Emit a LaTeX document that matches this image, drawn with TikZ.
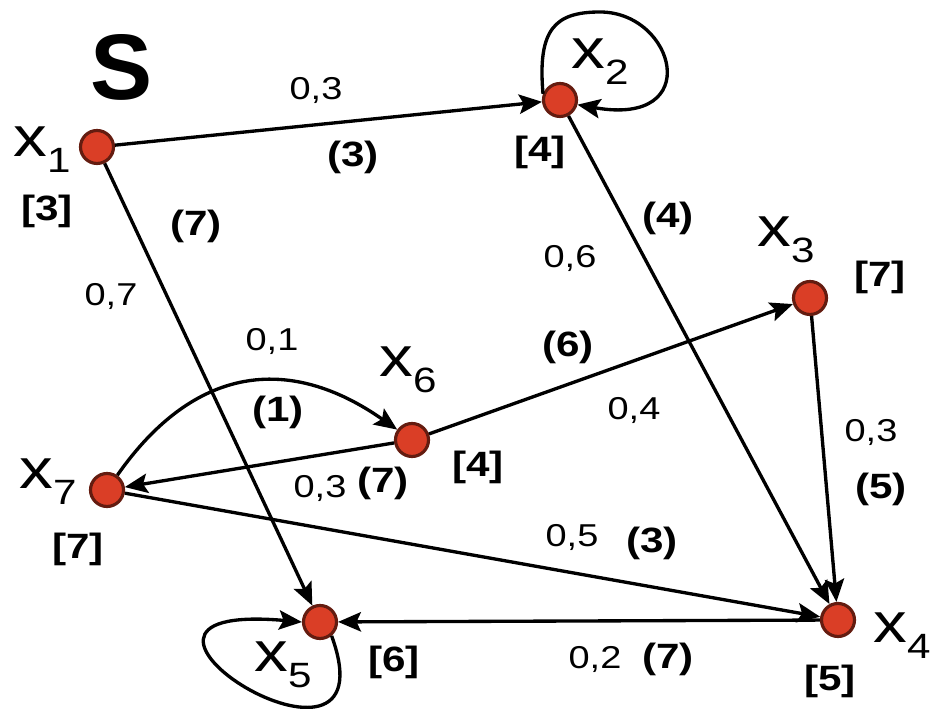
\documentclass[tikz,border=0pt]{standalone}
\usepackage{fontspec}
\setmainfont{Liberation Sans}
\newfontfamily\labf{Liberation Sans}[FakeStretch=1.2]
\usetikzlibrary{arrows.meta}
\definecolor{vfill}{RGB}{218,62,38}
\definecolor{vborder}{RGB}{100,28,16}
\newcommand{\xsub}[1]{{\labf\fontsize{32}{32}\selectfont x}\raisebox{-9pt}{\labf\fontsize{20}{20}\selectfont #1}}
\begin{document}
\begin{tikzpicture}[x=0.02cm,y=0.02cm,
  vert/.style={circle,draw=vborder,fill=vfill,line width=1.8pt,minimum size=0.66cm,inner sep=0pt},
  arr/.style={line width=1.9pt,-{Stealth[length=13pt,width=11pt,inset=2.5pt]}},
  num/.style={font=\labf\fontsize{18}{18}\selectfont,inner sep=0pt},
  bnum/.style={font=\labf\bfseries\fontsize{20}{20}\selectfont,inner sep=0pt},
  xlab/.style={inner sep=0pt}]
\useasboundingbox (0,0) rectangle (930,709);
% vertices
\node[vert] (x1) at (97,562) {};
\node[vert] (x2) at (560,609) {};
\node[vert] (x3) at (810,411) {};
\node[vert] (x4) at (838,89) {};
\node[vert] (x5) at (320,87) {};
\node[vert] (x6) at (412,269) {};
\node[vert] (x7) at (107,219) {};
\coordinate (x2top) at (600,697);
% edges
\draw[arr] (x1) -- (x2);
\draw[arr] (x1) -- (x5);
\draw[arr] (x2) -- (x4);
\draw[arr] (x3) -- (x4);
\draw[arr] (x6) -- (x3);
\draw[arr] (x6) -- (x7);
\draw[arr] (x7) -- (x4);
\draw[arr] (x4) -- (x5);
\draw[arr] (x7) to[out=55,in=145,looseness=1.2] (x6);
\draw[arr] (x2.160) .. controls +(95:65) and +(180:45) .. (x2top)
                    .. controls +(0:75) and +(-10:130) .. (x2.-15);
\draw[arr] (x5.-50) .. controls +(-70:190) and +(175:250) .. (x5.180);
% title
\node[font=\bfseries\fontsize{53}{53}\selectfont,inner sep=0pt] (S) at (122,642) {S};
% vertex labels
\node[xlab] (l1) at (42,559) {\xsub{1}};
\node[xlab] (l2) at (600,647) {\xsub{2}};
\node[xlab] (l3) at (786,469) {\xsub{3}};
\node[xlab] (l4) at (902,73) {\xsub{4}};
\node[xlab] (l5) at (283,44) {\xsub{5}};
\node[xlab] (l6) at (408,339) {\xsub{6}};
\node[xlab] (l7) at (48,227) {\xsub{7}};
% vertex weights
\node[bnum] (w1) at (47,498) {[3]};
\node[bnum] (w2) at (540,557) {[4]};
\node[bnum] (w3) at (880,432) {[7]};
\node[bnum] (w4) at (830,28) {[5]};
\node[bnum] (w5) at (394,47) {[6]};
\node[bnum] (w6) at (478,242) {[4]};
\node[bnum] (w7) at (78,160) {[7]};
% edge labels
\node[num] (p12) at (316,619) {0,3};
\node[bnum] (c12) at (353,552) {(3)};
\node[bnum] (c15) at (196,483) {(7)};
\node[num] (p15) at (111,413) {0,7};
\node[num] (p76) at (272,368) {0,1};
\node[bnum] (c76) at (278,297) {(1)};
\node[num] (p67) at (320,221) {0,3};
\node[bnum] (c67) at (383,226) {(7)};
\node[bnum] (c24) at (668,491) {(4)};
\node[num] (p24) at (570,451) {0,6};
\node[bnum] (c63) at (568,362) {(6)};
\node[num] (p63) at (634,299) {0,4};
\node[num] (p34) at (871,277) {0,3};
\node[bnum] (c34) at (881,220) {(5)};
\node[num] (p74) at (572,172) {0,5};
\node[bnum] (c74) at (652,166) {(3)};
\node[num] (p45) at (595,50) {0,2};
\node[bnum] (c45) at (668,50) {(7)};
\end{tikzpicture}
\end{document}
